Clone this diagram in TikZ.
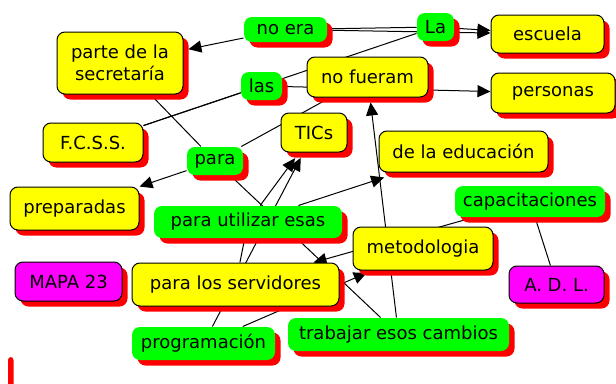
\documentclass[tikz,border=0pt]{standalone}
\usepackage{fontspec}
\setmainfont{DejaVu Sans}
\usetikzlibrary{arrows.meta,shadows,backgrounds}
\definecolor{cyellow}{RGB}{255,255,0}
\definecolor{cgreen}{RGB}{0,255,0}
\definecolor{cmagenta}{RGB}{255,0,255}
\definecolor{cred}{RGB}{255,0,0}

\begin{document}
\begin{tikzpicture}[
  x=1pt, y=-1pt,
  concept/.style={rectangle, rounded corners=8pt, draw, line width=1pt, fill=cyellow, align=center, inner sep=2pt,
    drop shadow={shadow xshift=5.5pt, shadow yshift=-5.5pt, fill=cred, opacity=1}},
  phrase/.style={concept, draw=none, fill=cgreen},
  marker/.style={concept, fill=cmagenta},
  dims/.style 2 args={minimum width=#1pt, minimum height=#2pt},
  link/.style={line width=1pt},
  >={Triangle[length=13pt,width=12pt]},
  font=\fontsize{18}{21.6}\selectfont
]
\useasboundingbox (0,0) rectangle (616,383);

% Top row
\node[phrase, dims={83}{25}] (noera) at (285.5,29.5) {no era};
\node[phrase, dims={37}{28}] (la) at (435.5,27) {La};
\node[concept, dims={113}{38}] (escuela) at (547.5,34) {escuela};
\node[concept, dims={126}{62}] (parte) at (120,63) {parte de la\\secretaría};

% Second row
\node[phrase, dims={41}{28}] (las) at (261.5,86) {las};
\node[concept, dims={121}{40}] (nofueram) at (367.5,77) {no fueram};
\node[concept, dims={124}{40}] (personas) at (553,93) {personas};
\node[concept, dims={100}{39}] (fcss) at (93,142.5) {F.C.S.S.};
\node[concept, dims={66}{39}] (tics) at (314,132.5) {TICs};
\node[concept, dims={169}{41}] (educacion) at (463.5,151.5) {de la educación};
\node[phrase, dims={56}{28}] (para) at (215,161) {para};

% Middle
\node[concept, dims={129}{43}] (preparadas) at (74.5,208.5) {preparadas};
\node[phrase, dims={188}{32}] (utilizar) at (248,222) {para utilizar esas};
\node[phrase, dims={150}{31}] (capacitaciones) at (530,201.5) {capacitaciones};
\node[concept, dims={140}{43}] (metodologia) at (423,248.5) {metodologia};

% Bottom rows
\node[marker, dims={107}{39}] (mapa) at (68.5,281.5) {MAPA 23};
\node[concept, dims={207}{43}] (servidores) at (235.5,284.5) {para los servidores};
\node[marker, dims={95}{37}] (adl) at (556.5,284.5) {A. D. L.};
\node[phrase, dims={143}{33}] (programacion) at (203.5,343.5) {programación};
\node[phrase, dims={221}{33}] (trabajar) at (398.5,334.5) {trabajar esos cambios};

% shadow of a box cut off at the left edge
\fill[cred, rounded corners=3pt] (8,357) rectangle (13.5,392);

% Links
\begin{scope}[on background layer]
  \draw[link,->,shorten >=5pt] (noera) -- (parte);
  \draw[link] (noera) -- (la);
  \draw[link,->] (noera) -- (escuela);
  \draw[link,->] (la) -- (escuela);
  \draw[link] (fcss) -- (las);
  \draw[link] (fcss) -- (la);
  \draw[link,->] (las) -- (personas);
  \draw[link] (parte) -- (para);
  \draw[link,->] (para) -- (preparadas);
  \draw[link] (para) -- (nofueram);
  \draw[link] (para) -- (trabajar);
  \draw[link] (servidores) -- (utilizar);
  \draw[link,->,shorten >=7pt] (utilizar) -- (tics);
  \draw[link,->,shorten >=6pt] (programacion) -- (tics);
  \draw[link,->,shorten >=16pt] (utilizar) -- (educacion);
  \draw[link,->] (capacitaciones) -- (servidores);
  \draw[link,->,shorten >=6pt] (programacion) -- (metodologia);
  \draw[link,->,shorten >=5pt] (trabajar) -- (nofueram);
  \draw[link] (capacitaciones) -- (adl);
\end{scope}

\end{tikzpicture}
\end{document}
